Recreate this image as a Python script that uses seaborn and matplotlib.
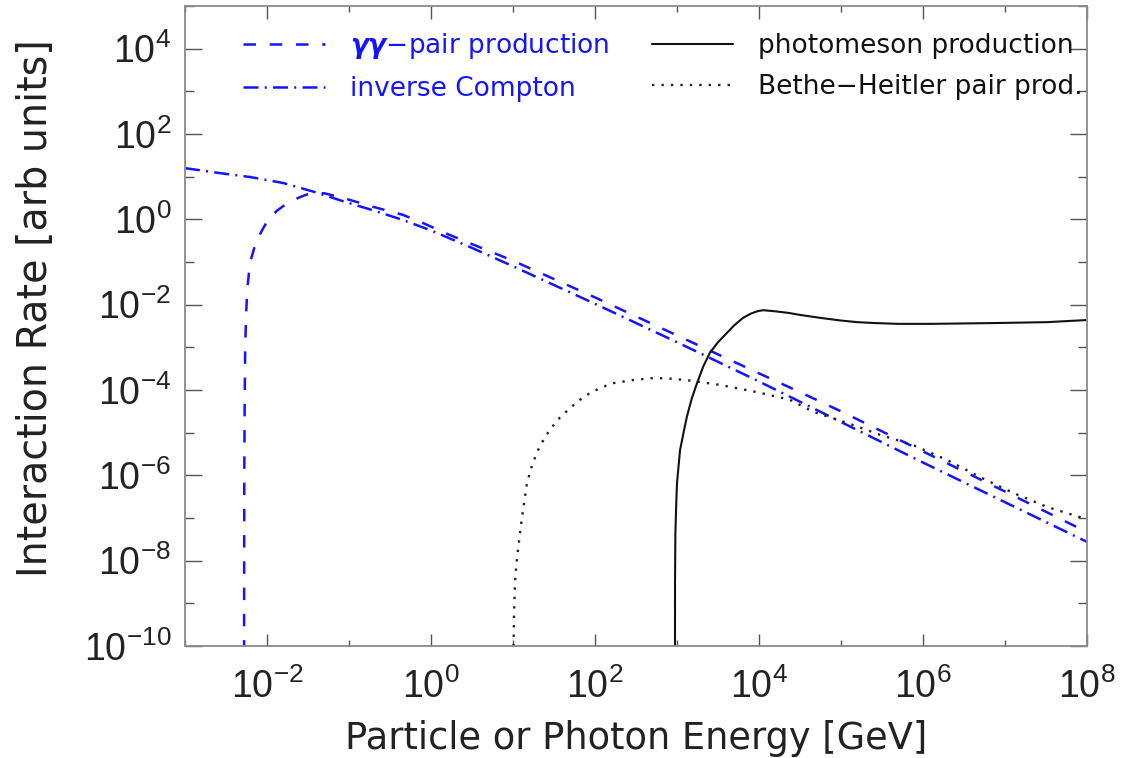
import matplotlib
matplotlib.use("Agg")
import numpy as np
import pandas as pd
import matplotlib.pyplot as plt
from matplotlib.ticker import NullFormatter
import seaborn as sns

# log10 of particle/photon energy [GeV] and log10 of interaction rate [arb units]
gg_log_e = [-2.281, -2.277, -2.272, -2.266, -2.254, -2.240, -2.207, -2.160, -2.12, -2.05,
            -1.99, -1.88, -1.78, -1.69, -1.60, -1.50, -1.42, -1.30, -1.05, -0.72,
            -0.35, -0.07, 0.17, 0.50, 1.0, 2.0, 3.0, 4.0, 4.5, 5.0, 6.0, 7.0, 8.0]
gg_log_rate = [-12.0, -6.0, -4.2, -3.0, -2.2, -1.62, -1.02, -0.70, -0.48, -0.22,
               -0.02, 0.20, 0.34, 0.44, 0.52, 0.59, 0.62, 0.61, 0.49, 0.30,
               0.11, -0.11, -0.32, -0.58, -0.97, -1.83, -2.72, -3.61, -4.05, -4.50,
               -5.44, -6.38, -7.33]

ic_log_e = [-3.0, -2.6, -2.2, -1.8, -1.4, -1.05, -0.72, -0.35, 0.0, 0.5,
            1.0, 2.0, 3.0, 4.0, 5.0, 6.0, 7.0, 8.0]
ic_log_rate = [1.20, 1.09, 0.99, 0.85, 0.63, 0.41, 0.22, -0.01, -0.26, -0.67,
               -1.10, -1.98, -2.88, -3.80, -4.75, -5.70, -6.63, -7.56]

pm_log_e = [2.975, 2.976, 2.980, 2.990, 3.000, 3.037, 3.08, 3.12, 3.18, 3.244,
            3.32, 3.40, 3.50, 3.61, 3.70, 3.805, 3.90, 3.988, 4.05, 4.17,
            4.35, 4.50, 4.75, 4.99, 5.20, 5.40, 5.70, 6.09, 6.50, 6.90, 7.51, 8.0]
pm_log_rate = [-12.0, -8.5, -7.4, -6.7, -6.18, -5.41, -5.0, -4.63, -4.20, -3.84,
               -3.45, -3.13, -2.88, -2.66, -2.48, -2.31, -2.21, -2.15, -2.13, -2.15,
               -2.19, -2.24, -2.31, -2.37, -2.41, -2.43, -2.45, -2.45, -2.44, -2.43, -2.41, -2.36]

bh_log_e = [1.0, 1.006, 1.012, 1.024, 1.040, 1.061, 1.085, 1.11, 1.171, 1.235,
            1.305, 1.39, 1.476, 1.57, 1.671, 1.80, 1.939, 2.08, 2.22, 2.45,
            2.707, 2.90, 3.122, 3.524, 3.976, 4.378, 4.659, 5.073, 5.476, 5.878,
            6.293, 6.695, 7.098, 7.512, 8.0]
bh_log_rate = [-12.0, -10.2, -9.3, -8.52, -8.1, -7.75, -7.35, -6.98, -6.18, -5.75,
               -5.41, -5.10, -4.87, -4.65, -4.47, -4.25, -4.07, -3.94, -3.84, -3.77,
               -3.72, -3.73, -3.77, -3.88, -4.05, -4.23, -4.51, -4.77, -5.05, -5.29,
               -5.64, -6.04, -6.41, -6.74, -7.03]

labels = [r"$\boldsymbol{\gamma\gamma}$−pair production", "inverse Compton",
          "photomeson production", "Bethe−Heitler pair prod."]

sns.set_theme(style="ticks")
plt.rcParams["font.family"] = ["Liberation Sans", "DejaVu Sans"]
plt.rcParams["mathtext.fontset"] = "dejavusans"

W, H = 1133, 758
fig = plt.figure(figsize=(W / 100, H / 100), dpi=100)
x0, x1, y0, y1 = 185, 1087, 6, 646
ax = fig.add_axes([x0 / W, 1 - y1 / H, (x1 - x0) / W, (y1 - y0) / H])

blue = "#1414ff"
series = [
    (gg_log_e, gg_log_rate, blue, (0, (5.0, 5.5)), 1.8),
    (ic_log_e, ic_log_rate, blue, (0, (6.0, 2.5, 0.8, 2.5)), 1.8),
    (pm_log_e, pm_log_rate, "#111111", "-", 1.5),
    (bh_log_e, bh_log_rate, "#222222", (0, (1, 3)), 1.7),
]
for (le, lr, col, ls, lw), lab in zip(series, labels):
    df = pd.DataFrame({"energy": 10.0 ** np.asarray(le), "rate": 10.0 ** np.asarray(lr)})
    sns.lineplot(data=df, x="energy", y="rate", ax=ax, color=col, linestyle=ls,
                 linewidth=lw, estimator=None, sort=False, label=lab)

ax.set_xscale("log")
ax.set_yscale("log")
ax.set_xlim(1e-3, 1e8)
ax.set_ylim(1e-10, 1e5)
ax.set_xticks([10.0 ** k for k in range(-2, 9, 2)])
ax.set_xticks([10.0 ** k for k in range(-3, 9, 2)], minor=True)
ax.set_yticks([10.0 ** k for k in range(-10, 5, 2)])
ax.set_yticks([10.0 ** k for k in range(-9, 6, 2)], minor=True)
ax.xaxis.set_minor_formatter(NullFormatter())
ax.yaxis.set_minor_formatter(NullFormatter())

for sp in ax.spines.values():
    sp.set_color("#8a8a8a")
    sp.set_linewidth(1.3)
ax.tick_params(which="both", direction="in", top=True, right=True,
               color="#555555", width=1.0, labelsize=27, labelcolor="#222222")
ax.tick_params(axis="y", which="major", length=12, pad=10)
ax.tick_params(axis="y", which="minor", length=6.5)
ax.tick_params(axis="x", which="major", length=9, pad=16)
ax.tick_params(axis="x", which="minor", length=4)

ax.set_xlabel("Particle or Photon Energy [GeV]", fontsize=26.5, color="#222222",
              labelpad=10, family="DejaVu Sans")
ax.set_ylabel("Interaction Rate [arb units]", fontsize=28.5, color="#222222",
              family="DejaVu Sans")
ax.yaxis.set_label_coords((56 - x0) / (x1 - x0), (y1 - 308) / (y1 - y0))

leg = ax.legend(loc="upper left", bbox_to_anchor=((243 - x0) / (x1 - x0), (y1 - 31) / (y1 - y0)),
                ncol=2, frameon=False, prop={"family": "DejaVu Sans", "size": 19},
                handlelength=3.1, handletextpad=0.95, columnspacing=1.6,
                labelspacing=0.57, borderpad=0, borderaxespad=0)
for txt, col in zip(leg.get_texts(), [blue, blue, "#111111", "#111111"]):
    txt.set_color(col)

fig.savefig("out.png", dpi=100)
